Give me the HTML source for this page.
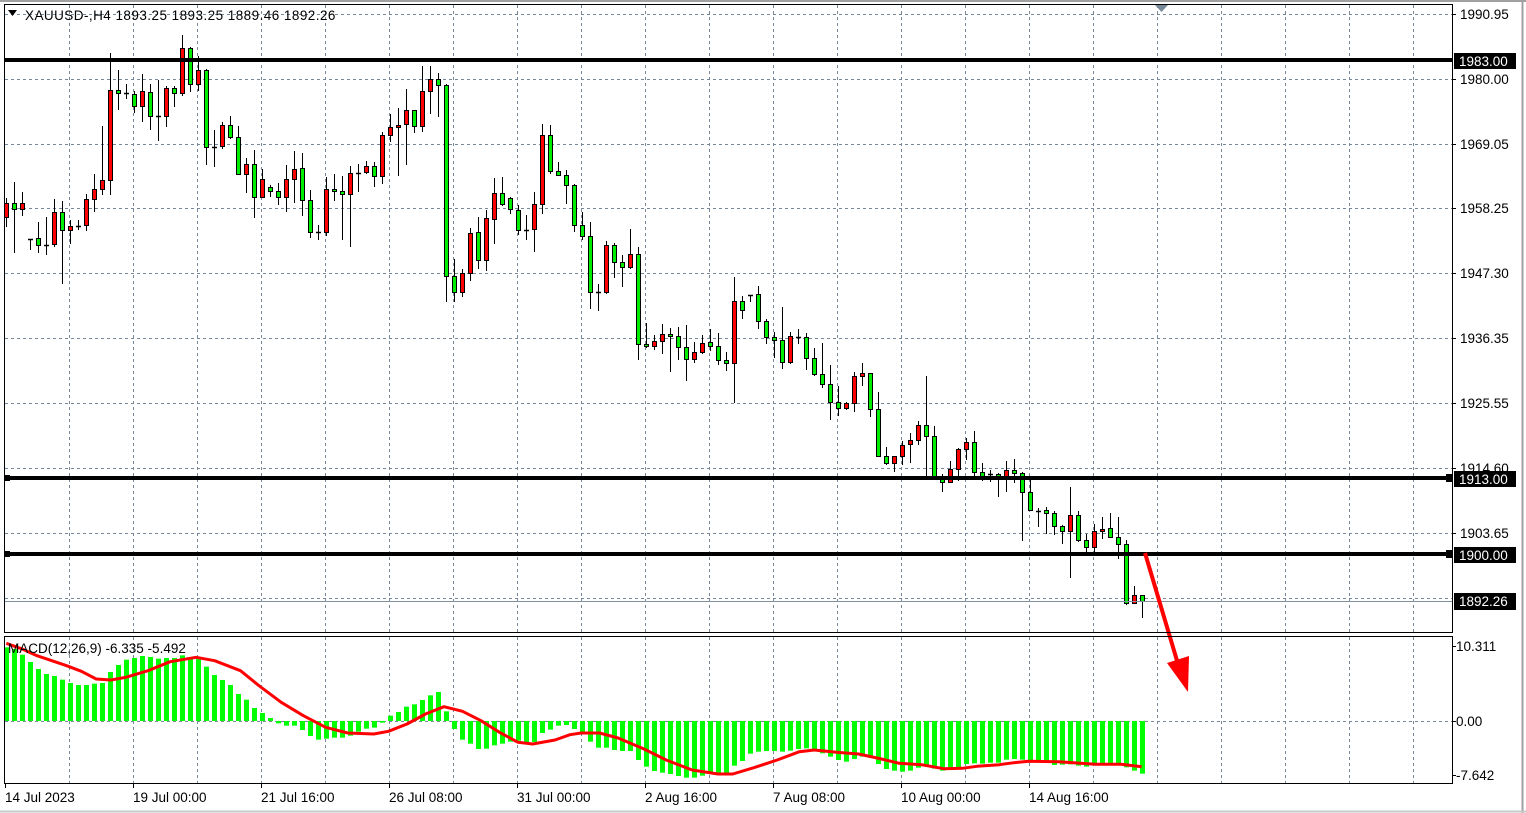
<!DOCTYPE html>
<html><head><meta charset="utf-8"><style>
html,body{margin:0;padding:0;background:#fff;width:1526px;height:813px;overflow:hidden}
svg{display:block}
text{font-family:"Liberation Sans",sans-serif;font-size:13.5px}
</style></head><body>
<svg id="s" width="1526" height="813" xmlns="http://www.w3.org/2000/svg">
<rect x="0" y="0" width="1526" height="813" fill="#fff"/>
<line x1="1522.5" y1="0" x2="1522.5" y2="813" stroke="#a0a0a0" stroke-width="2"/>
<line x1="0" y1="811.5" x2="1526" y2="811.5" stroke="#c8c8c8" stroke-width="2"/>
<g id="grid" stroke="#778899" stroke-width="1" stroke-dasharray="3,3"></g>
<g id="hist"></g>
<g id="cand"></g>
<g id="ov"></g>
</svg>
<script>
const NS="http://www.w3.org/2000/svg";
function el(p,t,a,txt){const e=document.createElementNS(NS,t);for(const k in a)e.setAttribute(k,a[k]);if(txt!==undefined)e.textContent=txt;p.appendChild(e);return e;}
const S=document.getElementById('s'),G=document.getElementById('grid'),H=document.getElementById('hist'),C=document.getElementById('cand'),O=document.getElementById('ov');
for(let x=69;x<1452;x+=64){el(G,'line',{x1:x+.5,y1:5,x2:x+.5,y2:632});el(G,'line',{x1:x+.5,y1:637,x2:x+.5,y2:783});}
const hy=[14,79,144,208,273,338,403,468,533,598];
hy.forEach(y=>el(G,'line',{x1:5,y1:y+.5,x2:1452,y2:y+.5}));
el(G,'line',{x1:5,y1:721.5,x2:1452,y2:721.5});
el(O,'line',{x1:5,y1:601.5,x2:1452,y2:601.5,stroke:'#8090a0','stroke-width':1});
el(S,'rect',{x:4.5,y:4.5,width:1448,height:628,fill:'none',stroke:'#000','stroke-width':1});
el(S,'rect',{x:4.5,y:636.5,width:1448,height:147,fill:'none',stroke:'#000','stroke-width':1});
el(S,'line',{x1:0,y1:1,x2:1526,y2:1,stroke:'#a0a0a0','stroke-width':2});
const d=[[203,217,198,227,'r'],[203,209,182,253,'g'],[203,209,192,216,'r'],[239,239,239,250,'d'],[238,245,222,253,'g'],[245,245,217,255,'d'],[212,244,199,247,'r'],[212,230,201,284,'g'],[226,230,220,244,'r'],[226,226,220,230,'d'],[199,225,194,231,'r'],[189,199,174,212,'r'],[180,189,126,195,'r'],[90,180,53,195,'r'],[90,93,70,110,'g'],[93,93,84,99,'d'],[94,106,91,113,'g'],[91,106,74,122,'r'],[92,116,84,130,'g'],[116,116,80,141,'d'],[88,116,86,127,'r'],[88,93,86,107,'g'],[48,93,35,96,'r'],[48,84,47,92,'g'],[70,84,56,91,'r'],[70,147,69,165,'g'],[147,147,130,167,'d'],[125,146,122,149,'r'],[125,137,116,139,'g'],[137,174,126,175,'g'],[164,174,158,193,'r'],[164,197,150,218,'g'],[179,197,169,197,'r'],[187,191,185,197,'g'],[191,197,183,205,'g'],[179,197,165,212,'r'],[169,179,151,203,'r'],[168,200,153,216,'g'],[200,232,190,238,'g'],[232,232,225,240,'d'],[189,232,177,236,'r'],[189,191,174,201,'g'],[191,194,176,240,'g'],[173,194,166,247,'r'],[173,173,164,192,'d'],[166,172,161,174,'r'],[166,176,162,187,'g'],[135,176,132,184,'r'],[127,135,114,142,'r'],[125,127,108,176,'r'],[110,124,89,165,'r'],[110,126,110,133,'g'],[91,126,66,132,'r'],[79,91,66,114,'r'],[79,85,73,117,'g'],[85,276,84,302,'g'],[276,292,259,302,'g'],[273,292,269,297,'r'],[233,273,228,281,'r'],[232,260,217,269,'g'],[218,260,210,271,'r'],[193,219,178,244,'r'],[193,204,177,206,'g'],[198,209,197,214,'g'],[210,230,205,235,'g'],[230,230,215,240,'d'],[204,229,192,252,'r'],[135,204,124,214,'r'],[135,171,125,174,'g'],[171,175,162,175,'g'],[175,185,170,204,'g'],[185,225,184,232,'g'],[225,236,212,240,'g'],[236,292,222,309,'g'],[292,292,284,311,'d'],[245,292,241,294,'r'],[245,262,243,278,'g'],[262,267,255,287,'g'],[254,267,229,269,'r'],[254,344,247,360,'g'],[344,346,323,348,'g'],[341,346,335,350,'r'],[334,341,324,354,'r'],[334,336,328,372,'g'],[336,347,327,360,'g'],[347,359,325,381,'g'],[352,359,342,363,'r'],[343,352,335,354,'r'],[342,346,329,351,'g'],[346,360,333,365,'g'],[360,363,352,371,'g'],[301,363,277,403,'r'],[301,310,296,319,'g'],[295,295,295,302,'d'],[294,321,286,329,'g'],[321,337,319,344,'g'],[337,340,332,358,'g'],[340,362,307,369,'g'],[336,362,332,364,'r'],[337,337,329,344,'d'],[337,358,333,370,'g'],[358,374,348,376,'g'],[374,384,343,388,'g'],[384,402,365,420,'g'],[402,408,386,416,'g'],[403,408,402,410,'r'],[376,403,372,412,'r'],[373,376,363,386,'r'],[373,409,373,417,'g'],[409,456,392,457,'g'],[456,463,447,465,'g'],[456,463,456,472,'r'],[445,456,441,465,'r'],[440,444,433,463,'r'],[425,440,421,445,'r'],[425,436,376,477,'g'],[436,477,426,477,'g'],[477,482,474,492,'g'],[469,482,461,482,'r'],[449,469,448,481,'r'],[442,449,438,460,'r'],[442,472,431,476,'g'],[472,476,463,481,'g'],[474,474,470,482,'d'],[474,479,473,497,'g'],[470,479,461,492,'r'],[470,473,459,483,'g'],[473,492,472,541,'g'],[492,510,480,510,'g'],[511,511,508,527,'d'],[510,513,507,534,'g'],[513,526,511,535,'g'],[526,531,525,544,'g'],[515,531,487,578,'r'],[515,540,511,542,'g'],[540,547,534,553,'g'],[531,547,524,553,'r'],[529,531,517,539,'r'],[528,537,513,538,'g'],[537,544,517,559,'g'],[544,603,540,605,'g'],[595,603,586,604,'r'],[595,601,595,618,'g']];
d.forEach((c,i)=>{const x=6+8*i;
 el(C,'line',{x1:x+.5,y1:c[2],x2:x+.5,y2:c[3],stroke:'#000','stroke-width':1});
 if(c[4]=='d'){el(C,'line',{x1:x-2,y1:c[0]+.5,x2:x+3,y2:c[0]+.5,stroke:'#000','stroke-width':1.5});}
 else el(C,'rect',{x:x-1.5,y:c[0]+.5,width:4,height:Math.max(2,c[1]-c[0]),fill:c[4]=='r'?'#ff0000':'#00ee00',stroke:'#000','stroke-width':1});
});
const p=[40,45,62,84,105,120,126,137,147,153,153,149,147,114,93,77,72,66,69,74,72,72,64,72,75,98,123,138,153,180,197,222,237,252,268,275,275,288,306,317,314,311,311,305,293,284,281,266,245,234,218,211,198,184,174,232,285,317,329,345,344,334,329,323,320,324,324,297,287,275,273,285];
const n=[296,323,341,341,348,351,351,378,398,411,416,420,426,431,431,425,415,418,418,395,381,359,353,351,351,353,350,345,343,348,358,368,378,383,375,368,371,390,405,410,413,410,401,398,404,410,407,402,390,388,389,386,386,377,375,377,379,384,386,393,392,391,395,398,389,388,388,392,400,410,419];
const all=p.concat(n);
all.forEach((z,i)=>{const x=6+8*i;const y=634+z/3;const t=Math.min(y,721),b=Math.max(y,721);
 el(H,'rect',{x:x-2,y:t,width:5,height:Math.max(1,b-t),fill:'#00ff00'});});
const sg=[[6.3,643.3],[22.2,649],[37,655.7],[66.6,665.7],[81.4,671.3],[96.2,679],[111,680],[125.8,677.3],[148,670.7],[170.2,661.7],[196.1,657.3],[214.6,660.7],[240.5,670.7],[259,685.7],[281.2,702.3],[303.4,715.7],[325.6,727.3],[347.8,733],[373.7,734],[388.5,731.3],[407,724],[425.5,714],[444,706.7],[462.5,711.3],[481,720.7],[499.5,732.3],[518,742.3],[532.7,744],[555,740],[570,734.7],[581.1,733],[599.6,733],[618.1,738],[644,749],[666.2,760],[692.1,770],[718,774],[732.8,774],[755,767.3],[777.2,760],[799.4,751.7],[814.2,750],[836.4,752.3],[858.6,754],[877.1,758],[899.3,763.3],[921.5,764.7],[943.7,768.7],[962.2,768.3],[977,766.3],[999.2,764.7],[1014,762.7],[1028.8,761.3],[1058.4,761.7],[1080.6,763.3],[1095.4,764.3],[1121.2,764.3],[1141.6,766.7]];
el(O,'polyline',{points:sg.map(q=>q.join(',')).join(' '),fill:'none',stroke:'#ff0000','stroke-width':3,'stroke-linejoin':'round'});
[[60,'1983.00'],[478,'1913.00'],[554,'1900.00']].forEach(l=>{
 el(O,'line',{x1:5,y1:l[0],x2:1452,y2:l[0],stroke:'#000','stroke-width':4});
 if(l[0]>100){el(O,'rect',{x:4,y:l[0]-3,width:6,height:6,fill:'#000'});el(O,'rect',{x:1446,y:l[0]-4,width:7,height:8,fill:'#000'});}
 el(O,'rect',{x:1454,y:l[0]-7,width:62,height:16,fill:'#000'});
 el(O,'text',{x:1459,y:l[0]+6,fill:'#fff'},l[1]);
});
el(O,'rect',{x:1454,y:593,width:62,height:17,fill:'#000'});
el(O,'text',{x:1459,y:606,fill:'#fff'},'1892.26');
[[14,'1990.95'],[79,'1980.00'],[144,'1969.05'],[208,'1958.25'],[273,'1947.30'],[338,'1936.35'],[403,'1925.55'],[468,'1914.60'],[533,'1903.65']].forEach(l=>{
 el(O,'line',{x1:1452,y1:l[0]+.5,x2:1456,y2:l[0]+.5,stroke:'#000'});
 el(O,'text',{x:1460,y:l[0]+5,fill:'#000'},l[1]);});
[[646,'10.311'],[721,'0.00'],[775,'-7.642']].forEach(l=>{
 el(O,'line',{x1:1452,y1:l[0]+.5,x2:1456,y2:l[0]+.5,stroke:'#000'});
 el(O,'text',{x:1456,y:l[0]+5,fill:'#000'},l[1]);});
[[5,'14 Jul 2023'],[133,'19 Jul 00:00'],[261,'21 Jul 16:00'],[389,'26 Jul 08:00'],[517,'31 Jul 00:00'],[645,'2 Aug 16:00'],[773,'7 Aug 08:00'],[901,'10 Aug 00:00'],[1029,'14 Aug 16:00']].forEach(l=>{
 el(O,'text',{x:l[0],y:802,fill:'#000'},l[1]);
 el(O,'line',{x1:l[0]+.5,y1:784,x2:l[0]+.5,y2:788,stroke:'#000'});});
el(O,'polygon',{points:'8,10 17,10 12.5,16',fill:'#000'});
el(O,'text',{x:25,y:20,fill:'#000','letter-spacing':'0.45'},'XAUUSD-,H4  1893.25 1893.25 1889.46 1892.26');
el(O,'text',{x:8,y:653,fill:'#000'},'MACD(12,26,9) -6.335 -5.492');
el(O,'polygon',{points:'1155,5 1168,5 1161.5,12',fill:'#778899'});
el(O,'line',{x1:1145,y1:553,x2:1178,y2:664,stroke:'#ff0000','stroke-width':4});
el(O,'polygon',{points:'1167,663 1189,656 1188,692',fill:'#ff0000'});
</script>
</body></html>
